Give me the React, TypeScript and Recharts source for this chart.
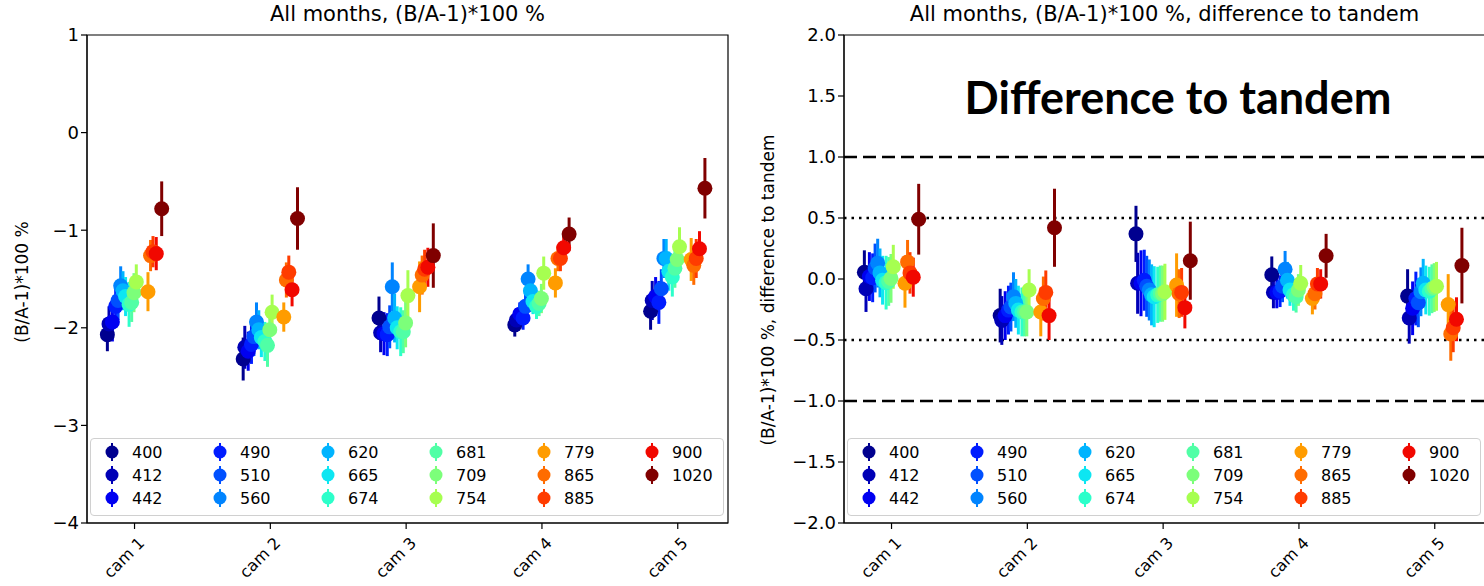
import React from 'react';
import { ScatterChart, Scatter, XAxis, YAxis, ErrorBar, ReferenceLine, ReferenceArea } from 'recharts';

const WAVELENGTHS = ['400', '412', '442', '490', '510', '560', '620', '665', '674', '681', '709', '754', '779', '865', '885', '900', '1020'];
const COLORS = ['#00008f', '#0000b6', '#0000f1', '#001cff', '#0050ff', '#0084ff', '#00b4ff', '#0de6f2', '#2cffca', '#50ffa6', '#7cff7a', '#a6ff50', '#ff9c00', '#ff6c00', '#ff3c00', '#f10800', '#800000'];
// horizontal dodge of each band inside a camera group (x units)
const OFFSETS = [-0.2, -0.188, -0.163, -0.139, -0.121, -0.102, -0.085, -0.066, -0.04, -0.021, -0.004, 0.013, 0.099, 0.118, 0.136, 0.16, 0.2];
const CAMS = ['cam 1', 'cam 2', 'cam 3', 'cam 4', 'cam 5'];

// left panel: (B/A-1)*100 %
const ABS_CAM1 = [-2.07, -1.96, -1.94, -1.78, -1.72, -1.57, -1.62, -1.68, -1.76, -1.74, -1.64, -1.53, -1.63, -1.26, -1.22, -1.24, -0.78];
const ABS_CAM2 = [-2.32, -2.2, -2.24, -2.17, -2.09, -1.94, -2.02, -2.1, -2.14, -2.18, -2.02, -1.84, -1.89, -1.51, -1.43, -1.61, -0.88];
const ABS_CAM3 = [-1.9, -2.05, -2.06, -2.07, -1.99, -1.58, -1.9, -2.0, -2.04, -2.04, -1.95, -1.67, -1.58, -1.46, -1.4, -1.38, -1.26];
const ABS_CAM4 = [-1.97, -1.92, -1.86, -1.9, -1.78, -1.5, -1.62, -1.73, -1.78, -1.75, -1.7, -1.44, -1.54, -1.29, -1.29, -1.18, -1.04];
const ABS_CAM5 = [-1.83, -1.72, -1.68, -1.74, -1.6, -1.29, -1.29, -1.42, -1.48, -1.39, -1.3, -1.17, -1.3, -1.36, -1.29, -1.19, -0.57];
const ABS_ERR1 = [0.17, 0.18, 0.2, 0.18, 0.2, 0.2, 0.2, 0.2, 0.23, 0.2, 0.2, 0.18, 0.2, 0.16, 0.16, 0.17, 0.28];
const ABS_ERR2 = [0.22, 0.22, 0.2, 0.2, 0.2, 0.2, 0.2, 0.2, 0.2, 0.22, 0.2, 0.18, 0.15, 0.18, 0.17, 0.17, 0.32];
const ABS_ERR3 = [0.22, 0.2, 0.22, 0.22, 0.22, 0.25, 0.25, 0.22, 0.25, 0.22, 0.25, 0.26, 0.26, 0.2, 0.2, 0.2, 0.33];
const ABS_ERR4 = [0.12, 0.12, 0.12, 0.12, 0.13, 0.15, 0.15, 0.13, 0.13, 0.13, 0.15, 0.17, 0.15, 0.13, 0.13, 0.13, 0.17];
const ABS_ERR5 = [0.19, 0.2, 0.2, 0.22, 0.2, 0.2, 0.2, 0.2, 0.2, 0.2, 0.2, 0.2, 0.22, 0.2, 0.2, 0.18, 0.31];

// right panel: difference to tandem
const DIFF_CAM1 = [0.055, -0.08, 0.02, 0.01, 0.09, 0.13, 0.05, -0.01, -0.03, -0.02, 0.005, 0.1, -0.035, 0.14, 0.05, 0.015, 0.49];
const DIFF_CAM2 = [-0.3, -0.34, -0.3, -0.255, -0.23, -0.145, -0.2, -0.255, -0.27, -0.27, -0.27, -0.09, -0.27, -0.16, -0.11, -0.3, 0.42];
const DIFF_CAM3 = [0.37, -0.035, -0.035, -0.01, -0.06, -0.09, -0.13, -0.145, -0.13, -0.12, -0.12, -0.105, -0.05, -0.12, -0.11, -0.235, 0.15];
const DIFF_CAM4 = [0.035, -0.11, -0.11, -0.1, -0.06, 0.08, -0.01, -0.09, -0.13, -0.145, -0.09, -0.035, -0.16, -0.12, -0.04, -0.04, 0.19];
const DIFF_CAM5 = [-0.14, -0.32, -0.24, -0.16, -0.195, -0.105, -0.035, -0.09, -0.1, -0.08, -0.07, -0.06, -0.21, -0.45, -0.4, -0.33, 0.11];
const DIFF_ERR1 = [0.18, 0.19, 0.2, 0.2, 0.2, 0.2, 0.2, 0.2, 0.22, 0.2, 0.2, 0.18, 0.2, 0.18, 0.17, 0.16, 0.29];
const DIFF_ERR2 = [0.22, 0.2, 0.2, 0.2, 0.2, 0.2, 0.2, 0.2, 0.2, 0.2, 0.2, 0.17, 0.2, 0.18, 0.18, 0.2, 0.32];
const DIFF_ERR3 = [0.23, 0.25, 0.27, 0.25, 0.25, 0.25, 0.25, 0.25, 0.23, 0.23, 0.23, 0.23, 0.26, 0.2, 0.2, 0.17, 0.32];
const DIFF_ERR4 = [0.15, 0.13, 0.13, 0.13, 0.13, 0.15, 0.15, 0.13, 0.13, 0.13, 0.13, 0.15, 0.13, 0.13, 0.13, 0.12, 0.18];
const DIFF_ERR5 = [0.22, 0.21, 0.22, 0.22, 0.2, 0.2, 0.2, 0.2, 0.2, 0.2, 0.2, 0.2, 0.25, 0.22, 0.2, 0.18, 0.31];

const ABS_TICKS = [-4, -3, -2, -1, 0, 1];
const DIFF_TICKS = [-2, -1.5, -1, -0.5, 0, 0.5, 1, 1.5, 2];

const FONT = '"DejaVu Sans", sans-serif';
const X_DOMAIN: [number, number] = [-0.35, 4.37];

const buildSeries = (values: number[][], errs: number[][]) =>
  WAVELENGTHS.map((_, i) => values.map((cam, k) => ({ x: k + OFFSETS[i], y: cam[i], err: errs[k][i] })));

const ABS_SERIES = buildSeries([ABS_CAM1, ABS_CAM2, ABS_CAM3, ABS_CAM4, ABS_CAM5], [ABS_ERR1, ABS_ERR2, ABS_ERR3, ABS_ERR4, ABS_ERR5]);
const DIFF_SERIES = buildSeries([DIFF_CAM1, DIFF_CAM2, DIFF_CAM3, DIFF_CAM4, DIFF_CAM5], [DIFF_ERR1, DIFF_ERR2, DIFF_ERR3, DIFF_ERR4, DIFF_ERR5]);

const minus = (s: string) => s.replace('-', '\u2212');

const CamTick = ({ x, y, payload }: any) => {
  const ax = x + 11;
  const ay = y + 13;
  return (
    <text x={ax} y={ay} transform={`rotate(-45 ${ax} ${ay})`} textAnchor="end" fontSize={16} fontFamily={FONT} fill="#000">
      {CAMS[payload.value]}
    </text>
  );
};

const LegendBox = ({ left, top }: { left: number; top: number }) => (
  <div style={{
    position: 'absolute', left, top, width: 632, height: 76, border: '1.5px solid #d0d0d0', borderRadius: 4,
    background: 'rgba(255,255,255,0.85)', fontFamily: FONT, fontSize: 16, color: '#000',
  }}>
    {WAVELENGTHS.map((w, i) => {
      const col = Math.floor(i / 3);
      const row = i % 3;
      return (
        <div key={w} style={{ position: 'absolute', left: 12 + col * 108, top: 2 + row * 23, height: 22, display: 'flex', alignItems: 'center' }}>
          <svg width={18} height={22}>
            <line x1={9} x2={9} y1={2} y2={20} stroke={COLORS[i]} strokeWidth={2} />
            <circle cx={9} cy={11} r={6.5} fill={COLORS[i]} />
          </svg>
          <span style={{ marginLeft: 11 }}>{w}</span>
        </div>
      );
    })}
  </div>
);

type PanelProps = {
  series: { x: number; y: number; err: number }[][];
  domain: [number, number];
  ticks: number[];
  fmt: (v: number) => string;
  yWidth: number;
  width: number;
  guides?: boolean;
};

const Panel = ({ series, domain, ticks, fmt, yWidth, width, guides }: PanelProps) => (
  <ScatterChart width={width} height={586} margin={{ top: 35, right: 17, bottom: 0, left: 0 }}>
    <ReferenceArea x1={X_DOMAIN[0]} x2={X_DOMAIN[1]} y1={domain[0]} y2={domain[1]} fill="none" stroke="#000" strokeWidth={1.2} ifOverflow="visible" />
    <XAxis
      type="number" dataKey="x" domain={X_DOMAIN} ticks={[0, 1, 2, 3, 4]} allowDataOverflow
      height={63} axisLine={{ stroke: '#000' }} tickLine={{ stroke: '#000', strokeWidth: 1.2 }} tickSize={6}
      tick={<CamTick />} interval={0}
    />
    <YAxis
      type="number" dataKey="y" domain={domain} ticks={ticks} allowDataOverflow width={yWidth}
      axisLine={{ stroke: '#000' }} tickLine={{ stroke: '#000', strokeWidth: 1.2 }} tickSize={6}
      tick={{ fontSize: 18, fontFamily: FONT, fill: '#000' }} tickFormatter={fmt}
    />
    {guides && <ReferenceLine y={1} stroke="#000" strokeWidth={2.5} strokeDasharray="13 6" />}
    {guides && <ReferenceLine y={-1} stroke="#000" strokeWidth={2.5} strokeDasharray="13 6" />}
    {guides && <ReferenceLine y={0.5} stroke="#000" strokeWidth={2.5} strokeDasharray="2.5 5" />}
    {guides && <ReferenceLine y={-0.5} stroke="#000" strokeWidth={2.5} strokeDasharray="2.5 5" />}
    {series.map((data, i) => (
      <Scatter
        key={WAVELENGTHS[i]} name={WAVELENGTHS[i]} data={data} isAnimationActive={false}
        shape={(p: any) => <circle cx={p.cx} cy={p.cy} r={7.5} fill={COLORS[i]} />}
      >
        <ErrorBar dataKey="err" direction="y" width={0} stroke={COLORS[i]} strokeWidth={3} isAnimationActive={false} />
      </Scatter>
    ))}
  </ScatterChart>
);

export default function App() {
  return (
    <div style={{ position: 'relative', width: 1484, height: 586, overflow: 'hidden', background: '#fff', fontFamily: FONT }}>
      <style>{'body{margin:0}'}</style>
      <div style={{ position: 'absolute', left: 0, top: 0 }}>
        <Panel series={ABS_SERIES} domain={[-4, 1]} ticks={ABS_TICKS} fmt={(v) => minus(String(v))} yWidth={87} width={745} />
      </div>
      <div style={{ position: 'absolute', left: 760, top: 0 }}>
        <Panel series={DIFF_SERIES} domain={[-2, 2]} ticks={DIFF_TICKS} fmt={(v) => minus(v.toFixed(1))} yWidth={84} width={742} guides />
      </div>

      <div style={{ position: 'absolute', left: 87, width: 641, top: 2, textAlign: 'center', fontSize: 21 }}>All months, (B/A-1)*100 %</div>
      <div style={{ position: 'absolute', left: 844, width: 641, top: 2, textAlign: 'center', fontSize: 21 }}>All months, (B/A-1)*100 %, difference to tandem</div>
      <div style={{ position: 'absolute', left: 22, top: 282, fontSize: 17, whiteSpace: 'nowrap', transform: 'translate(-50%, -50%) rotate(-90deg)' }}>(B/A-1)*100 %</div>
      <div style={{ position: 'absolute', left: 768, top: 290, fontSize: 17, whiteSpace: 'nowrap', transform: 'translate(-50%, -50%) rotate(-90deg)' }}>(B/A-1)*100 %, difference to tandem</div>
      <div style={{ position: 'absolute', left: 1178, top: 97, transform: 'translate(-50%, -50%)', fontFamily: 'Lato, sans-serif', fontWeight: 700, fontSize: 45, whiteSpace: 'nowrap' }}>Difference to tandem</div>

      <LegendBox left={90} top={438} />
      <LegendBox left={847} top={438} />
    </div>
  );
}
